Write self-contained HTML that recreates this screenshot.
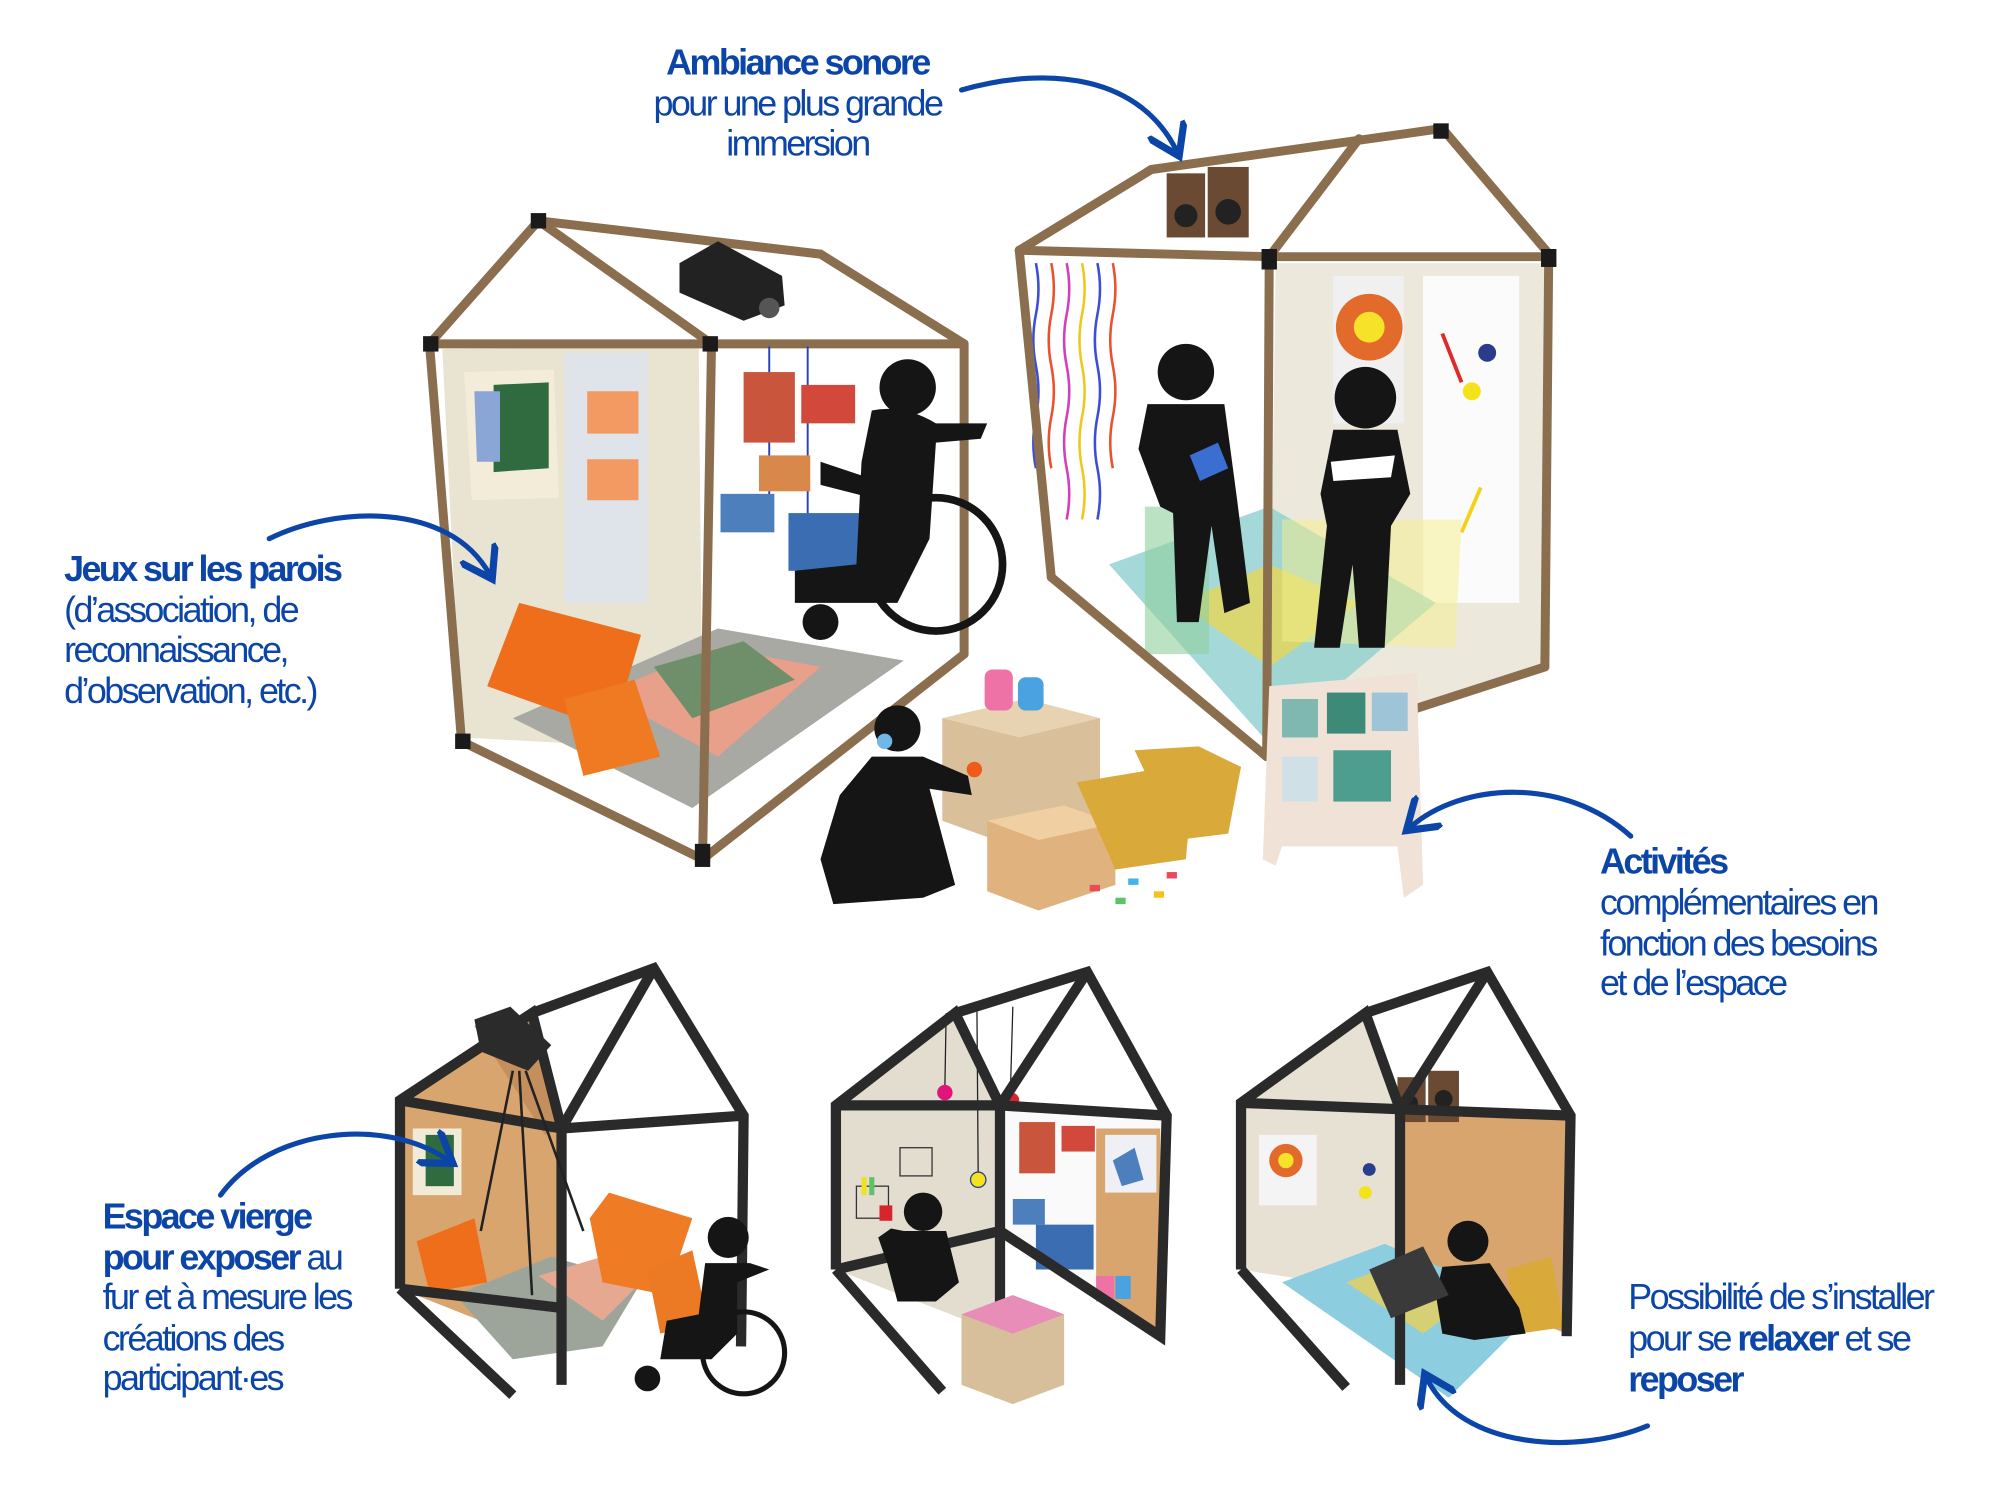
<!DOCTYPE html>
<html><head><meta charset="utf-8"><style>
html,body{margin:0;padding:0;background:#fff;}
svg{display:block;}
.t{font-family:"Liberation Sans",sans-serif;font-size:28px;fill:#0b45a8;letter-spacing:-2px;}
.b{font-weight:bold;}
</style></head><body>
<svg width="2000" height="1489" viewBox="0 0 1560 1161" xmlns="http://www.w3.org/2000/svg">
<rect width="1560" height="1161" fill="#fff"/>
<defs>
<marker id="ah" markerWidth="8" markerHeight="8" refX="5" refY="4" orient="auto" markerUnits="strokeWidth"><path d="M0,0 L6,4 L0,8" fill="none" stroke="#0b45a8" stroke-width="1.4"/></marker>
</defs>

<!-- ============ TOP LEFT HOUSE ============ -->
<g>
<polygon points="345,272 545,270 548,585 360,575" fill="#e9e3d2"/>
<polygon points="440,275 505,275 505,470 440,470" fill="#dfe3ea"/>
<polygon points="458,305 498,305 498,338 458,338" fill="#f39a63"/>
<polygon points="458,358 498,358 498,390 458,390" fill="#f39a63"/>
<polygon points="362,290 432,288 436,388 368,390" fill="#f3ecd8"/>
<polygon points="385,300 428,298 428,365 385,368" fill="#2f6b3e"/>
<polygon points="370,305 390,305 390,360 372,360" fill="#8aa6d6"/>
<polygon points="400,560 560,490 705,515 540,630" fill="#a8a9a2"/>
<polygon points="470,540 560,505 640,520 560,590" fill="#e9a08a"/>
<polygon points="510,520 580,500 620,530 540,560" fill="#6f8f6a"/>
<polygon points="380,535 405,470 500,495 478,570" fill="#ee6e1c"/>
<polygon points="440,545 495,530 515,590 455,605" fill="#f07a22"/>
<g stroke="#8a6e4e" stroke-width="7" fill="none" stroke-linecap="round">
<polyline points="360,578 335,268 420,172 555,268"/>
<polyline points="420,172 640,198 752,268"/>
<line x1="335" y1="268" x2="752" y2="268"/>
<line x1="555" y1="268" x2="548" y2="670"/>
<line x1="752" y1="268" x2="752" y2="510"/>
<line x1="360" y1="578" x2="548" y2="670"/>
<line x1="548" y1="670" x2="752" y2="510"/>
</g>
<g fill="#1a1a1a"><rect x="330" y="262" width="12" height="12"/><rect x="414" y="166" width="12" height="12"/><rect x="542" y="658" width="12" height="18"/><rect x="548" y="262" width="12" height="12"/><rect x="355" y="572" width="12" height="12"/></g>
<polygon points="530,205 560,188 610,215 612,238 580,250 530,228" fill="#222"/>
<circle cx="600" cy="240" r="8" fill="#555"/>
<g stroke="#2742b4" stroke-width="1.5"><line x1="600" y1="270" x2="600" y2="400"/><line x1="630" y1="270" x2="630" y2="410"/></g>
<rect x="580" y="290" width="40" height="55" fill="#c9553d"/>
<rect x="625" y="300" width="42" height="30" fill="#d2483a"/>
<rect x="562" y="385" width="42" height="30" fill="#4d7fbc"/>
<rect x="592" y="355" width="40" height="28" fill="#d8884a"/>
<rect x="615" y="400" width="65" height="45" fill="#3a6db2"/>
<g fill="#151515">
<circle cx="708" cy="302" r="22"/>
<path d="M680,320 Q705,315 730,330 L770,330 L765,342 L730,345 L725,420 L700,470 L620,470 L620,445 L668,440 L672,360 Z"/>
<path d="M640,360 L700,380 L695,392 L640,378 Z"/>
</g>
<circle cx="730" cy="440" r="52" fill="none" stroke="#151515" stroke-width="6"/>
<circle cx="640" cy="485" r="14" fill="#151515"/>
</g>

<!-- ============ TOP RIGHT HOUSE ============ -->
<g>
<polygon points="995,205 1205,205 1205,520 990,590" fill="#ece8dc"/>
<polygon points="1110,215 1185,215 1185,470 1110,470" fill="#fbfbfb"/>
<polygon points="1040,215 1095,215 1095,330 1040,330" fill="#f0f0f0"/>
<circle cx="1068" cy="255" r="26" fill="#e26a2a"/>
<circle cx="1068" cy="255" r="12" fill="#f7e22a"/>
<circle cx="1148" cy="305" r="7" fill="#f4e21b"/>
<circle cx="1160" cy="275" r="7" fill="#2a3d8d"/>
<line x1="1125" y1="260" x2="1140" y2="298" stroke="#e02a2a" stroke-width="3"/>
<line x1="1140" y1="415" x2="1155" y2="380" stroke="#f4d21b" stroke-width="3"/>
<polygon points="865,440 990,395 1120,470 990,580" fill="#8fd0d0" opacity="0.8"/>
<polygon points="920,470 990,440 1060,470 990,520" fill="#f1d544" opacity="0.7"/>
<polygon points="1000,405 1140,405 1135,505 1000,500" fill="#f6ef8a" opacity="0.5"/>
<rect x="893" y="395" width="50" height="115" fill="#8fcf9c" opacity="0.6"/>
<g stroke-width="2" fill="none">
<path d="M808,205 q4,20 0,40 q-4,20 0,40 q4,20 0,40 q-4,20 0,40" stroke="#3b4fd6"/>
<path d="M820,205 q4,20 0,40 q-4,20 0,40 q4,20 0,40 q-4,20 0,40" stroke="#e8522e"/>
<path d="M832,205 q4,20 0,40 q-4,20 0,40 q4,20 0,40 q-4,20 0,40 q4,20 0,40" stroke="#d43fb8"/>
<path d="M844,205 q4,20 0,40 q-4,20 0,40 q4,20 0,40 q-4,20 0,40 q4,20 0,40" stroke="#f0c71f"/>
<path d="M856,205 q4,20 0,40 q-4,20 0,40 q4,20 0,40 q-4,20 0,40 q4,20 0,40" stroke="#3b4fd6"/>
<path d="M868,205 q4,20 0,40 q-4,20 0,40 q4,20 0,40 q-4,20 0,40" stroke="#e8522e"/>
</g>
<g stroke="#8a6e4e" stroke-width="7" fill="none" stroke-linecap="round">
<polyline points="795,195 898,132 1125,100 1210,200"/>
<polyline points="795,195 990,200 1210,200"/>
<polyline points="990,200 1060,108"/>
<line x1="795" y1="195" x2="820" y2="450"/>
<line x1="990" y1="200" x2="988" y2="590"/>
<line x1="1208" y1="200" x2="1205" y2="520"/>
<line x1="820" y1="450" x2="988" y2="590"/>
<line x1="988" y1="590" x2="1205" y2="520"/>
</g>
<g fill="#1a1a1a"><rect x="984" y="194" width="12" height="16"/><rect x="1202" y="194" width="12" height="14"/><rect x="1118" y="96" width="12" height="12"/></g>
<rect x="910" y="135" width="30" height="50" fill="#6b4a33"/><rect x="942" y="130" width="32" height="55" fill="#6b4a33"/>
<circle cx="925" cy="168" r="9" fill="#222"/><circle cx="958" cy="165" r="10" fill="#222"/>
<g fill="#151515">
<circle cx="925" cy="290" r="22"/>
<path d="M895,315 L955,315 L965,390 L975,470 L955,478 L945,410 L935,485 L918,485 L915,400 L905,395 L888,350 Z"/>
<circle cx="1065" cy="310" r="24"/>
<path d="M1040,335 L1090,335 L1100,385 L1085,410 L1080,505 L1060,505 L1055,440 L1045,505 L1025,505 L1035,410 L1030,385 Z"/>
</g>
<polygon points="928,355 950,345 958,365 936,375" fill="#3a6fd1"/>
<polygon points="1038,360 1088,355 1085,372 1040,375" fill="#fff"/>
</g>

<!-- ============ MIDDLE ACTIVITIES ============ -->
<polygon points="735,560 800,545 858,560 858,635 790,660 735,640" fill="#d9bf9a"/>
<polygon points="735,560 800,545 858,560 795,575" fill="#e7d2b2"/>
<rect x="768" y="522" width="22" height="32" rx="6" fill="#ee72a6"/>
<rect x="794" y="528" width="20" height="26" rx="6" fill="#4aa3e0"/>
<polygon points="770,640 830,628 870,642 870,690 810,710 770,695" fill="#e0b27d"/>
<polygon points="770,640 830,628 870,642 810,655" fill="#f0cfa2"/>
<g fill="#d9a93a"><polygon points="840,610 900,600 930,615 925,670 870,678"/><polygon points="885,585 935,582 968,598 958,650 918,655"/></g>
<g fill="#e84b5a"><rect x="850" y="690" width="8" height="5"/><rect x="880" y="685" width="8" height="5" fill="#42b4e6"/><rect x="900" y="695" width="8" height="5" fill="#f4c21b"/><rect x="870" y="700" width="8" height="5" fill="#5fc16a"/><rect x="910" y="680" width="8" height="5"/></g>
<polygon points="990,535 1105,525 1110,690 1095,700 1090,660 1000,660 995,675 985,670" fill="#f0e2d6"/>
<rect x="1000" y="545" width="28" height="30" fill="#7fb7b1"/><rect x="1035" y="540" width="30" height="32" fill="#3d8a78"/><rect x="1070" y="540" width="28" height="30" fill="#9ec4d8"/>
<rect x="1000" y="590" width="28" height="35" fill="#cfe0e6"/><rect x="1040" y="585" width="45" height="40" fill="#4d9e8e"/>
<g fill="#151515">
<circle cx="700" cy="568" r="18"/>
<path d="M680,590 L720,590 L755,605 L758,620 L725,615 L745,690 L720,700 L650,705 L640,670 L655,620 Z"/>
</g>
<circle cx="760" cy="600" r="6" fill="#f05a1a"/>
<circle cx="690" cy="578" r="6" fill="#6fb8e8"/>

<!-- ============ BOTTOM HOUSES ============ -->
<g>
<polygon points="312,858 415,790 438,880 438,1055 312,1005" fill="#d9a56e"/>
<polygon points="370,800 415,790 440,880 425,885" fill="#c58f5d"/>
<rect x="322" y="880" width="38" height="52" fill="#f1ead7"/><rect x="332" y="885" width="22" height="40" fill="#2f6b3e"/>
<polygon points="355,1010 430,980 500,1000 470,1050 400,1060" fill="#9da59a"/>
<polygon points="420,995 470,980 500,1000 470,1030" fill="#e6a890"/>
<polygon points="325,968 370,950 380,1000 335,1008" fill="#ee6e1c"/>
<polygon points="460,950 475,930 540,950 520,1010 470,1000" fill="#ef7b24"/>
<polygon points="505,990 540,975 552,1030 515,1040" fill="#ec7a25"/>
<g stroke="#2a2a2a" stroke-width="8" fill="none" stroke-linejoin="miter">
<polyline points="312,1005 312,858 415,790 438,880 438,1080"/>
<polyline points="312,858 438,880 580,870"/>
<polyline points="415,790 510,755 580,870 578,1050"/>
<polyline points="312,1005 400,1088"/>
<polyline points="438,1020 312,1005"/>
<line x1="438" y1="880" x2="510" y2="755"/>
</g>
<polygon points="370,795 398,785 430,815 412,835 375,820" fill="#2b2b2b"/>
<g stroke="#222" stroke-width="2"><line x1="400" y1="835" x2="375" y2="960"/><line x1="405" y1="835" x2="415" y2="1010"/><line x1="410" y1="835" x2="455" y2="960"/></g>
<g fill="#151515">
<circle cx="568" cy="965" r="16"/>
<path d="M550,985 L585,985 L600,990 L575,1000 L575,1040 L555,1060 L515,1060 L520,1030 L545,1025 Z"/>
</g>
<circle cx="580" cy="1055" r="32" fill="none" stroke="#151515" stroke-width="4"/>
<circle cx="505" cy="1075" r="10" fill="#151515"/>
</g>
<g>
<polygon points="652,862 745,790 780,862 780,1040 652,990" fill="#e3ddcf"/>
<polygon points="780,862 910,872 905,1040 780,960" fill="#fafafa"/>
<polygon points="855,880 905,880 905,1040 855,1010" fill="#d9a56e"/>
<rect x="862" y="885" width="40" height="45" fill="#eef0f6"/><polygon points="868,905 885,895 892,920 875,925" fill="#4d7fbc"/>
<rect x="795" y="875" width="28" height="40" fill="#c9553d"/><rect x="828" y="878" width="26" height="20" fill="#d2483a"/>
<rect x="790" y="935" width="25" height="20" fill="#4d7fbc"/><rect x="808" y="955" width="45" height="35" fill="#3a6db2"/>
<rect x="855" y="995" width="14" height="20" fill="#ee72a6"/><rect x="870" y="995" width="12" height="18" fill="#4aa3e0"/>
<rect x="702" y="895" width="25" height="22" fill="none" stroke="#333" stroke-width="1"/>
<rect x="668" y="925" width="25" height="25" fill="none" stroke="#333" stroke-width="1"/>
<rect x="672" y="918" width="4" height="14" fill="#f0e21b"/><rect x="678" y="918" width="4" height="14" fill="#5fc16a"/>
<g stroke="#222" stroke-width="1"><line x1="738" y1="790" x2="737" y2="848"/><line x1="762" y1="785" x2="763" y2="918"/><line x1="790" y1="785" x2="788" y2="855"/></g>
<circle cx="737" cy="852" r="6" fill="#e0147a"/><circle cx="763" cy="920" r="6" fill="#f5e21b" stroke="#2a3d8d"/><circle cx="789" cy="858" r="6" fill="#d8242c"/>
<g stroke="#2a2a2a" stroke-width="8" fill="none">
<polyline points="652,990 652,862 745,790 780,862 780,1090"/>
<polyline points="652,862 780,862 910,870"/>
<polyline points="745,790 848,758 910,870 905,1042 780,960"/>
<line x1="780" y1="862" x2="848" y2="758"/>
<line x1="652" y1="990" x2="735" y2="1085"/>
<line x1="652" y1="990" x2="780" y2="960"/>
</g>
<g fill="#151515">
<circle cx="720" cy="945" r="15"/>
<path d="M705,960 L738,960 L748,1000 L730,1015 L700,1015 L692,985 L685,965 L695,958 Z"/>
</g>
<rect x="686" y="940" width="10" height="12" fill="#d8242c"/>
<polygon points="750,1025 790,1010 830,1025 830,1080 790,1095 750,1080" fill="#d7bf9c"/>
<polygon points="750,1025 790,1010 830,1025 790,1040" fill="#e88cb8"/>
</g>
<g>
<polygon points="968,860 1065,790 1092,865 1092,1010 968,990" fill="#e6e1d3"/>
<polygon points="1092,865 1222,870 1222,1040 1092,990" fill="#d9a56e"/>
<rect x="982" y="885" width="45" height="55" fill="#f4f4f4"/>
<circle cx="1003" cy="905" r="13" fill="#e26a2a"/><circle cx="1003" cy="905" r="6" fill="#f7e22a"/>
<circle cx="1065" cy="930" r="5" fill="#f4e21b"/><circle cx="1068" cy="912" r="5" fill="#2a3d8d"/>
<polygon points="1000,1000 1080,970 1200,1020 1130,1090" fill="#8ccde0"/>
<polygon points="1050,1000 1090,985 1150,1010 1110,1040" fill="#e8cf58" opacity="0.8"/>
<polygon points="1175,990 1210,980 1220,1035 1185,1040" fill="#d9a93a"/>
<rect x="1090" y="840" width="22" height="35" fill="#6b4a33"/><rect x="1114" y="835" width="24" height="40" fill="#6b4a33"/>
<circle cx="1100" cy="860" r="6" fill="#222"/><circle cx="1126" cy="857" r="7" fill="#222"/>
<g stroke="#2a2a2a" stroke-width="8" fill="none">
<polyline points="968,990 968,860 1065,790 1092,865 1092,1080"/>
<polyline points="968,860 1092,865 1225,870"/>
<polyline points="1065,790 1160,758 1225,870 1222,1042"/>
<line x1="1092" y1="865" x2="1160" y2="758"/>
<line x1="968" y1="990" x2="1050" y2="1082"/>
</g>
<g fill="#151515">
<circle cx="1145" cy="968" r="16"/>
<path d="M1125,988 L1162,985 L1185,1020 L1190,1040 L1150,1045 L1125,1040 L1120,1010 Z"/>
</g>
<polygon points="1068,990 1110,972 1130,1010 1085,1028" fill="#3a3a3a"/>
</g>

<!-- ============ ARROWS ============ -->
<g stroke="#0b45a8" stroke-width="4" fill="none" stroke-linecap="round">
<path d="M750,70 C820,50 890,60 918,118" marker-end="url(#ah)"/>
<path d="M210,420 C260,395 350,390 382,448" marker-end="url(#ah)"/>
<path d="M1272,652 C1220,605 1140,610 1100,645" marker-end="url(#ah)"/>
<path d="M172,932 C210,880 300,870 350,905" marker-end="url(#ah)"/>
<path d="M1285,1112 C1230,1135 1140,1130 1113,1075" marker-end="url(#ah)"/>
</g>

<!-- ============ TEXT ============ -->
<g class="t">
<text x="622" y="58" text-anchor="middle" class="t b">Ambiance sonore</text>
<text x="622" y="90" text-anchor="middle" class="t">pour une plus grande</text>
<text x="622" y="121" text-anchor="middle" class="t">immersion</text>

<text x="50" y="453" class="t b">Jeux sur les parois</text>
<text x="50" y="485" class="t">(d’association, de</text>
<text x="50" y="516" class="t">reconnaissance,</text>
<text x="50" y="548" class="t">d’observation, etc.)</text>

<text x="1248" y="681" class="t b">Activités</text>
<text x="1248" y="713" class="t">complémentaires en</text>
<text x="1248" y="745" class="t">fonction des besoins</text>
<text x="1248" y="776" class="t">et de l’espace</text>

<text x="80" y="958" class="t b">Espace vierge</text>
<text x="80" y="990" class="t"><tspan class="b">pour exposer</tspan> au</text>
<text x="80" y="1021" class="t">fur et à mesure les</text>
<text x="80" y="1053" class="t">créations des</text>
<text x="80" y="1084" class="t">participant·es</text>

<text x="1270" y="1021" class="t">Possibilité de s’installer</text>
<text x="1270" y="1053" class="t">pour se <tspan class="b">relaxer</tspan> et se</text>
<text x="1270" y="1085" class="t b">reposer</text>
</g>
</svg>
</body></html>
